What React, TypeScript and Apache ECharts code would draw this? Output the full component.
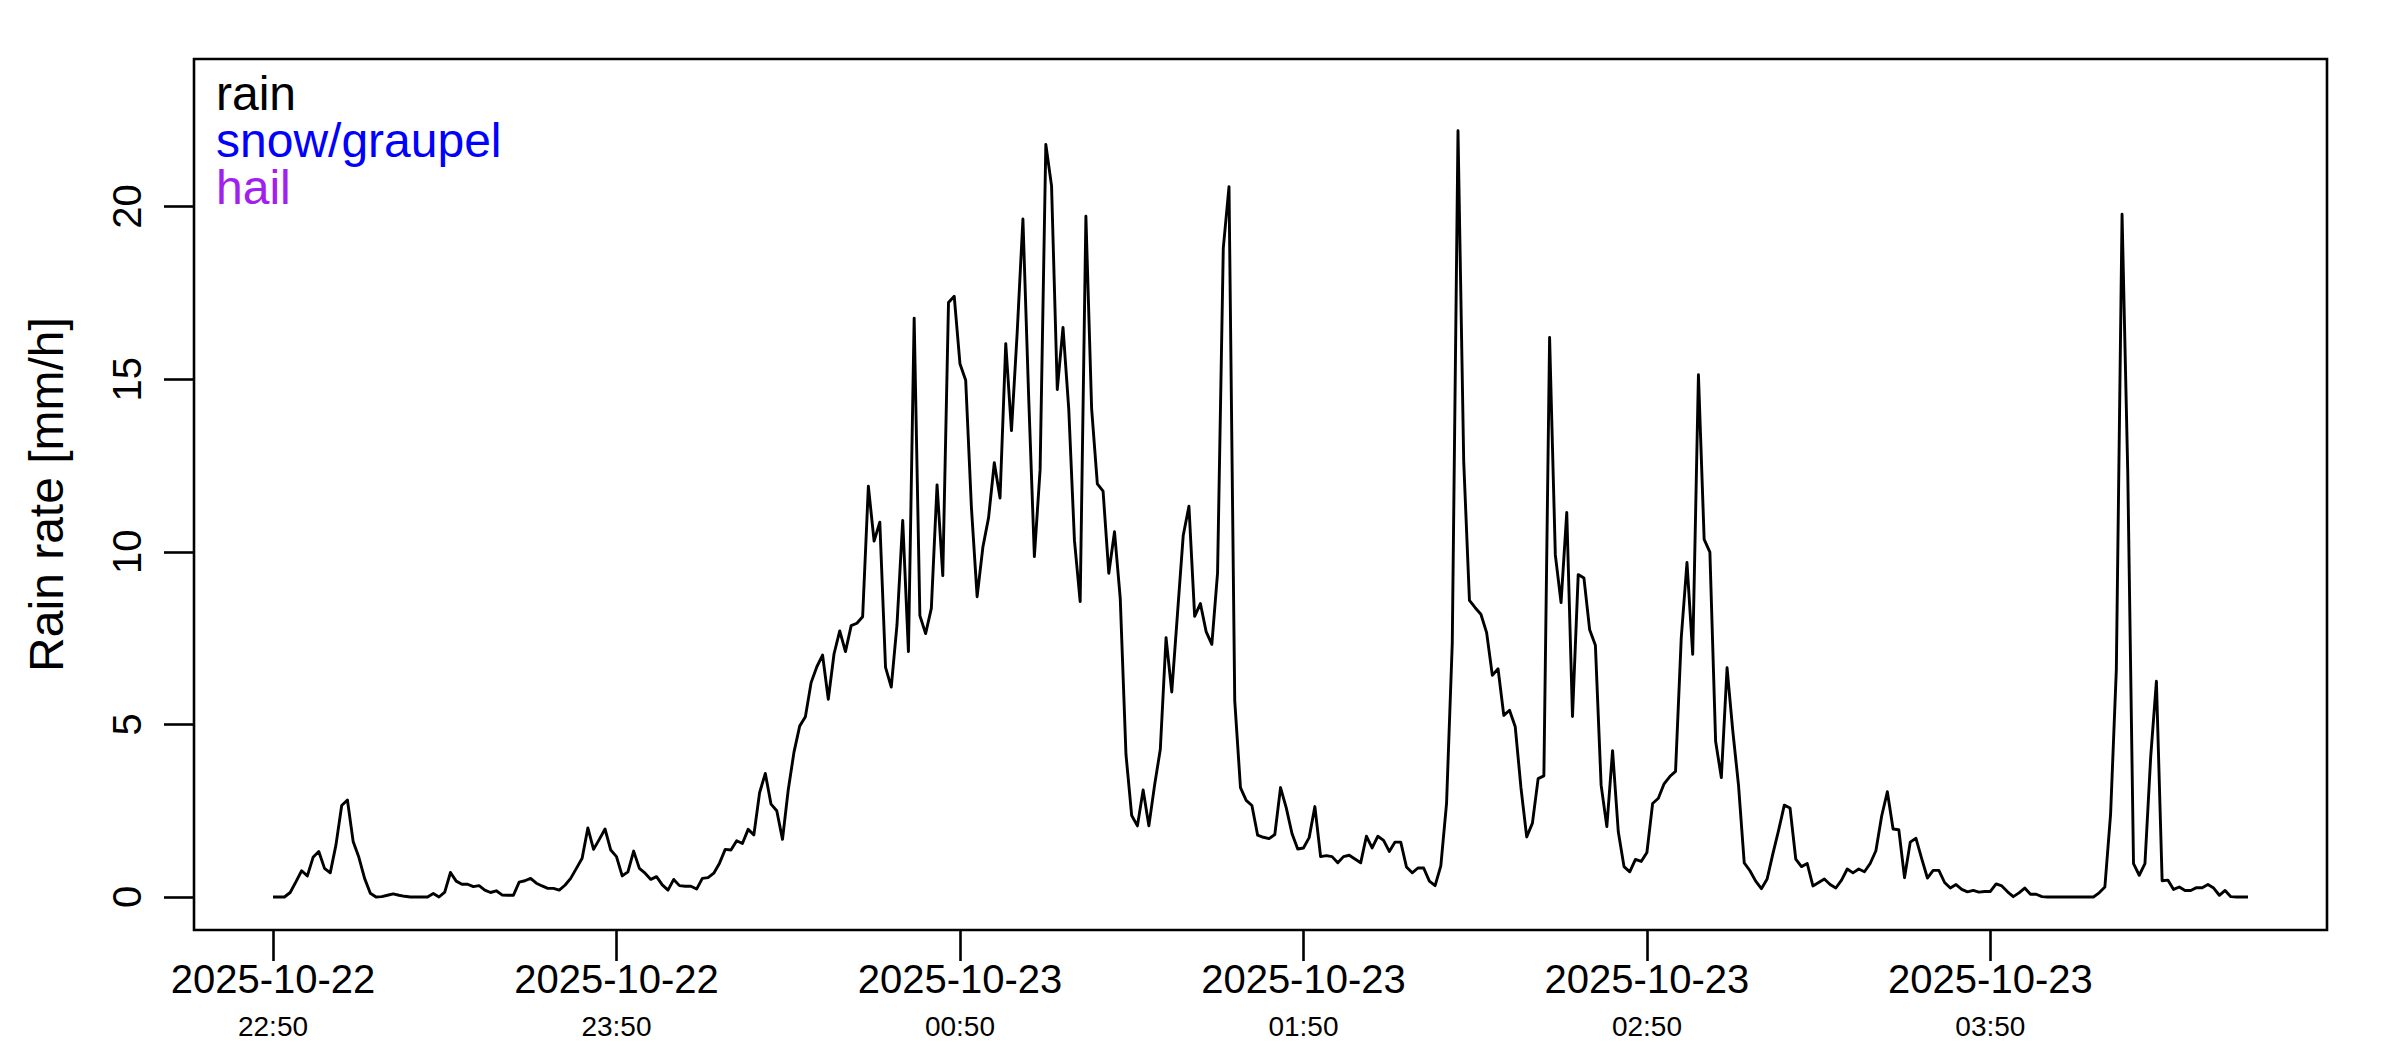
import React, { useEffect, useRef } from "react";
import * as echarts from "echarts";

// Rain rate [mm/h], one value per minute starting 2025-10-22 22:50 (UTC labels)
const startYear = 2025;
const startMonth = 10;
const startDay = 22;
const startHour = 22;
const startMinute = 50;
const stepMinutes = 1;

const rain_2250 = [
  0, 0, 0, 0.13, 0.44, 0.76, 0.61, 1.15, 1.32, 0.83,
  0.7, 1.51, 2.65, 2.81, 1.61, 1.15, 0.54, 0.11, 0, 0.01,
  0.05, 0.09, 0.05, 0.02, 0, 0, 0, 0, 0.1, 0,
  0.14, 0.71, 0.46, 0.37, 0.37, 0.3, 0.33, 0.2, 0.13, 0.18,
  0.06, 0.05, 0.05, 0.43, 0.47, 0.54, 0.4, 0.32, 0.25, 0.25,
  0.2, 0.34, 0.54, 0.83, 1.12, 2.0, 1.38, 1.67, 1.97, 1.36,
];
const rain_2350 = [
  1.17, 0.61, 0.73, 1.33, 0.83, 0.69, 0.51, 0.59, 0.35, 0.2,
  0.51, 0.33, 0.31, 0.31, 0.23, 0.54, 0.56, 0.69, 0.98, 1.38,
  1.36, 1.63, 1.55, 1.96, 1.8, 3.02, 3.58, 2.69, 2.5, 1.67,
  3.1, 4.19, 4.95, 5.22, 6.21, 6.67, 7.01, 5.73, 7.04, 7.71,
  7.11, 7.86, 7.93, 8.12, 11.9, 10.31, 10.86, 6.65, 6.08, 7.88,
  10.91, 7.11, 16.77, 8.15, 7.63, 8.36, 11.94, 9.31, 17.22, 17.4,
];
const rain_0050 = [
  15.45, 14.97, 11.29, 8.7, 10.13, 10.99, 12.58, 11.56, 16.03, 13.51,
  16.36, 19.64, 14.5, 9.86, 12.38, 21.8, 20.6, 14.7, 16.5, 14.15,
  10.33, 8.56, 19.72, 14.15, 11.97, 11.76, 9.38, 10.58, 8.65, 4.13,
  2.36, 2.06, 3.1, 2.06, 3.24, 4.28, 7.51, 5.94, 8.21, 10.47,
  11.32, 8.13, 8.5, 7.69, 7.32, 9.39, 18.8, 20.58, 5.69, 3.17,
  2.8, 2.65, 1.79, 1.73, 1.69, 1.81, 3.17, 2.58, 1.84, 1.39,
];
const rain_0150 = [
  1.42, 1.72, 2.62, 1.17, 1.2, 1.17, 0.99, 1.17, 1.21, 1.1,
  0.99, 1.76, 1.42, 1.76, 1.64, 1.32, 1.59, 1.59, 0.87, 0.7,
  0.84, 0.84, 0.46, 0.33, 0.9, 2.71, 7.36, 22.2, 12.61, 8.59,
  8.38, 8.19, 7.66, 6.42, 6.61, 5.26, 5.41, 4.93, 3.16, 1.74,
  2.14, 3.43, 3.51, 16.21, 9.91, 8.53, 11.14, 5.23, 9.34, 9.24,
  7.74, 7.29, 3.24, 2.04, 4.24, 1.89, 0.88, 0.73, 1.09, 1.03,
];
const rain_0250 = [
  1.29, 2.71, 2.86, 3.28, 3.49, 3.64, 7.51, 9.69, 7.03, 15.13,
  10.36, 9.99, 4.51, 3.46, 6.64, 4.81, 3.24, 0.99, 0.76, 0.46,
  0.24, 0.52, 1.25, 1.93, 2.66, 2.58, 1.1, 0.88, 0.97, 0.32,
  0.42, 0.52, 0.36, 0.26, 0.49, 0.81, 0.7, 0.81, 0.73, 0.97,
  1.34, 2.34, 3.05, 1.97, 1.95, 0.56, 1.59, 1.7, 1.11, 0.55,
  0.77, 0.77, 0.42, 0.26, 0.36, 0.22, 0.15, 0.19, 0.14, 0.16,
];
const rain_0350 = [
  0.16, 0.38, 0.32, 0.15, 0.01, 0.12, 0.26, 0.08, 0.08, 0.01,
  0, 0, 0, 0, 0, 0, 0, 0, 0, 0.12,
  0.29, 2.41, 6.59, 19.78, 12.27, 0.97, 0.63, 0.97, 4.05, 6.25,
  0.47, 0.49, 0.22, 0.29, 0.19, 0.19, 0.27, 0.27, 0.36, 0.26,
  0.05, 0.19, 0.01, 0, 0, 0,
];

const rainRate = [
  ...rain_2250,
  ...rain_2350,
  ...rain_0050,
  ...rain_0150,
  ...rain_0250,
  ...rain_0350,
];

// tick positions in minutes after the start time
const xTickMinutes = [0, 60, 120, 180, 240, 300];
const yTicks = [0, 5, 10, 15, 20];
const legendLabels = ["rain", "snow/graupel", "hail"];
const legendColors = ["#000000", "#0000ff", "#a020f0"];
const yAxisTitle = "Rain rate [mm/h]";

const FONT = '"Liberation Sans", Arial, Helvetica, sans-serif';

const pad = (n: number) => (n < 10 ? "0" + n : String(n));
const startMs = Date.UTC(startYear, startMonth - 1, startDay, startHour, startMinute);

function labelFor(minutes: number) {
  const d = new Date(startMs + minutes * 60000);
  const date = `${d.getUTCFullYear()}-${pad(d.getUTCMonth() + 1)}-${pad(d.getUTCDate())}`;
  const time = `${pad(d.getUTCHours())}:${pad(d.getUTCMinutes())}`;
  return `{d|${date}}\n{t|${time}}`;
}

export default function App() {
  const ref = useRef<HTMLDivElement>(null);

  useEffect(() => {
    document.body.style.margin = "0";
    if (!ref.current) return;
    const chart = echarts.init(ref.current, undefined, { renderer: "svg" });

    const data = rainRate.map((v, i) => [i * stepMinutes, v]);
    const n = (rainRate.length - 1) * stepMinutes;
    const xPad = n * 0.04;

    const legendBaselines = [110, 157, 204];

    chart.setOption({
      animation: false,
      backgroundColor: "#ffffff",
      grid: {
        left: 194,
        top: 59,
        width: 2133,
        height: 871,
        show: true,
        borderColor: "#000000",
        borderWidth: 2.6,
        backgroundColor: "transparent",
        containLabel: false,
        outerBoundsMode: "none",
      },
      xAxis: {
        type: "value",
        min: -xPad,
        max: n + xPad,
        axisLine: { show: false, onZero: false },
        splitLine: { show: false },
        axisTick: {
          show: true,
          customValues: xTickMinutes,
          length: 31,
          lineStyle: { color: "#000000", width: 2.6 },
        },
        axisLabel: {
          show: true,
          customValues: xTickMinutes,
          margin: 26,
          color: "#000000",
          fontFamily: FONT,
          formatter: (v: number) => labelFor(v),
          rich: {
            d: { fontSize: 40, lineHeight: 46, fontFamily: FONT, color: "#000000" },
            t: { fontSize: 28, lineHeight: 48, fontFamily: FONT, color: "#000000" },
          },
        },
      },
      yAxis: {
        type: "value",
        min: -0.956,
        max: 24.276,
        name: yAxisTitle,
        nameLocation: "middle",
        nameRotate: 90,
        nameGap: 124,
        nameTextStyle: {
          fontSize: 48,
          lineHeight: 48,
          fontFamily: FONT,
          color: "#000000",
        },
        axisLine: { show: false, onZero: false },
        splitLine: { show: false },
        axisTick: {
          show: true,
          customValues: yTicks,
          length: 30,
          lineStyle: { color: "#000000", width: 2.6 },
        },
        axisLabel: {
          show: true,
          customValues: yTicks,
          rotate: 90,
          margin: 47,
          fontSize: 40,
          lineHeight: 40,
          fontFamily: FONT,
          color: "#000000",
        },
      },
      graphic: legendLabels.map((t, i) => ({
        type: "text",
        x: 216,
        y: legendBaselines[i] - 16.6,
        z: 100,
        style: {
          text: t,
          fill: legendColors[i],
          fontSize: 48,
          lineHeight: 40,
          fontFamily: FONT,
          align: "left",
          verticalAlign: "middle",
        },
      })),
      series: [
        {
          name: "rain",
          type: "line",
          data,
          showSymbol: false,
          symbol: "none",
          silent: true,
          clip: true,
          lineStyle: { color: "#000000", width: 2.9, join: "round" },
        },
      ],
    });

    return () => chart.dispose();
  }, []);

  return (
    <div
      ref={ref}
      style={{ position: "fixed", left: 0, top: 0, width: 2400, height: 1050, background: "#fff" }}
    />
  );
}
